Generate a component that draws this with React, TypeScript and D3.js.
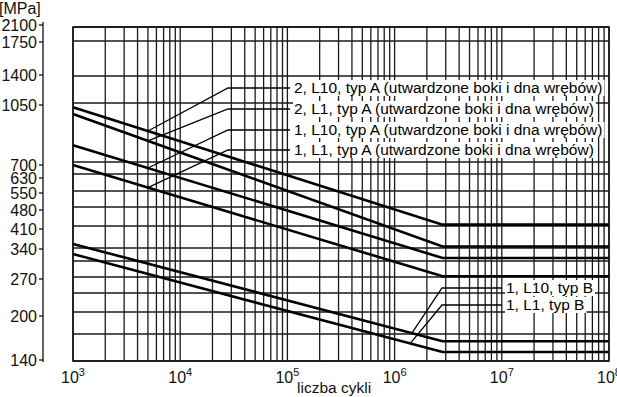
import * as d3 from "d3";
import { useEffect, useRef } from "react";

// cycle counts where each S-N curve bends (start, knee, end)
const cycles = [1e3, 2.8e6, 1e8];

// typ A curves (stress in MPa at the points above)
const s2L10A = [1025, 415, 415];
const s2L1A = [985, 345, 345];
const s1L10A = [800, 317, 317];
const s1L1A = [682, 272, 272];
// typ B curves
const s1L10B = [353, 162, 162];
const s1L1B = [326, 150, 150];

const labelsA = [
  "2, L10, typ A (utwardzone boki i dna wrębów)",
  "2, L1, typ A (utwardzone boki i dna wrębów)",
  "1, L10, typ A (utwardzone boki i dna wrębów)",
  "1, L1, typ A (utwardzone boki i dna wrębów)",
];
const labelsB = ["1, L10, typ B", "1, L1, typ B"];

const yTickValues = [2100, 1750, 1400, 1050, 700, 630, 550, 480, 410, 340, 270, 200, 140];
const yGridValues = [2100, 1750, 1400, 1050, 700, 630, 550, 480, 410, 340, 310, 270, 240, 200, 170, 140];
const xDecades = [3, 4, 5, 6, 7, 8];

const yUnit = "[MPa]";
const xTitle = "liczba cykli";

// layout
const W = 617;
const H = 397;
const plotLeft = 73;
const plotRight = 609;
const plotTop = 27;
const plotBottom = 361;
const axisX = 43;
// the value axis of the original is hand drawn, so its gridlines are not evenly spaced,
// and the separate tick axis on the left sits a few pixels off the grid
const yGridPx = [27, 41, 76, 103, 162, 174, 191, 207, 226, 248, 261, 277, 293, 312, 334, 361];
const yAxisPx = [25, 42, 75, 105, 165, 178, 193, 210, 229, 249, 279, 316, 360];
const font = "'Liberation Sans', Arial, Helvetica, sans-serif";

export default function App() {
  const svgRef = useRef<SVGSVGElement>(null);

  useEffect(() => {
    drawChart();
  }, []);

  function drawChart() {
    const svg = d3.select(svgRef.current);
    svg.selectAll("*").remove();

    const x = d3.scaleLog().domain([1e3, 1e8]).range([plotLeft, plotRight]);
    const y = d3.scaleLinear().domain(yGridValues).range(yGridPx);
    const yAxis = d3.scaleLinear().domain(yTickValues).range(yAxisPx);

    svg.append("rect").attr("width", W).attr("height", H).attr("fill", "#fff");

    // vertical log grid
    const minor: number[] = [];
    for (let e = 3; e < 8; e++) {
      for (let k = 1; k < 10; k++) minor.push(k * Math.pow(10, e));
    }
    minor.push(1e8);
    svg
      .append("g")
      .selectAll("line")
      .data(minor)
      .join("line")
      .attr("x1", (d) => x(d))
      .attr("x2", (d) => x(d))
      .attr("y1", plotTop)
      .attr("y2", plotBottom)
      .attr("stroke", "#1a1a1a")
      .attr("stroke-width", 1.3);

    // horizontal grid
    svg
      .append("g")
      .selectAll("line")
      .data(yGridValues)
      .join("line")
      .attr("x1", plotLeft)
      .attr("x2", plotRight)
      .attr("y1", (d) => y(d))
      .attr("y2", (d) => y(d))
      .attr("stroke", "#1a1a1a")
      .attr("stroke-width", 1.3);

    // value axis on the left
    svg
      .append("line")
      .attr("x1", axisX)
      .attr("x2", axisX)
      .attr("y1", yAxis(2100) - 3)
      .attr("y2", yAxis(140) + 2)
      .attr("stroke", "#111")
      .attr("stroke-width", 1.3);

    const yt = svg.append("g").selectAll("g").data(yTickValues).join("g");
    yt.append("line")
      .attr("x1", axisX - 4)
      .attr("x2", axisX)
      .attr("y1", (d) => yAxis(d))
      .attr("y2", (d) => yAxis(d))
      .attr("stroke", "#111")
      .attr("stroke-width", 1.3);
    yt.append("text")
      .attr("x", axisX - 6)
      .attr("y", (d) => yAxis(d) + 5.5)
      .attr("text-anchor", "end")
      .attr("font-family", font)
      .attr("font-size", 16)
      .attr("fill", "#111")
      .text((d) => d);

    svg
      .append("text")
      .attr("x", -1)
      .attr("y", 14)
      .attr("font-family", font)
      .attr("font-size", 16)
      .attr("fill", "#111")
      .text(yUnit);

    // cycle axis labels 10^n
    const xt = svg
      .append("g")
      .selectAll("text")
      .data(xDecades)
      .join("text")
      .attr("x", (d) => x(Math.pow(10, d)))
      .attr("y", 383)
      .attr("text-anchor", "middle")
      .attr("font-family", font)
      .attr("font-size", 16)
      .attr("fill", "#111");
    xt.append("tspan").text("10");
    xt.append("tspan")
      .attr("dy", -7)
      .attr("font-size", 11)
      .text((d) => d);

    svg
      .append("text")
      .attr("x", 297)
      .attr("y", 393)
      .attr("font-family", font)
      .attr("font-size", 15.5)
      .attr("fill", "#111")
      .text(xTitle);

    // S-N curves
    const seriesA = [s2L10A, s2L1A, s1L10A, s1L1A];
    const seriesB = [s1L10B, s1L1B];
    const line = d3
      .line<number>()
      .x((_, i) => x(cycles[i]))
      .y((d) => y(d));

    svg
      .append("g")
      .selectAll("path")
      .data([...seriesA, ...seriesB])
      .join("path")
      .attr("d", (d) => line(d))
      .attr("fill", "none")
      .attr("stroke", "#000")
      .attr("stroke-width", 2.6);

    // pixel y of a curve at a given cycle count on its sloping part
    function yOn(s: number[], n: number) {
      const t = (x(n) - x(cycles[0])) / (x(cycles[1]) - x(cycles[0]));
      return y(s[0]) + t * (y(s[1]) - y(s[0]));
    }

    const labelG = svg.append("g");

    function addLabel(
      s: number[],
      touchN: number,
      text: string,
      elbowX: number,
      textX: number,
      baseline: number
    ) {
      const ly = baseline - 5;
      labelG
        .append("polyline")
        .attr(
          "points",
          `${x(touchN)},${yOn(s, touchN)} ${elbowX},${ly} ${textX - 4},${ly}`
        )
        .attr("fill", "none")
        .attr("stroke", "#000")
        .attr("stroke-width", 1.3);
      const bg = labelG.append("rect").attr("fill", "#fff");
      const t = labelG
        .append("text")
        .attr("x", textX)
        .attr("y", baseline)
        .attr("font-family", font)
        .attr("font-size", 15.5)
        .attr("fill", "#000")
        .text(text);
      const bb = (t.node() as SVGTextElement).getBBox();
      bg.attr("x", bb.x - 1)
        .attr("y", bb.y + 1)
        .attr("width", bb.width + 3)
        .attr("height", bb.height - 1);
    }

    const baselinesA = [93, 114, 135, 155];
    seriesA.forEach((s, i) => {
      addLabel(s, 5000, labelsA[i], 228, 294, baselinesA[i]);
    });
    const baselinesB = [293, 310];
    const touchB = [1.45e6, 1.4e6];
    seriesB.forEach((s, i) => {
      addLabel(s, touchB[i], labelsB[i], 442, 506, baselinesB[i]);
    });

    // plot frame
    svg
      .append("rect")
      .attr("x", plotLeft)
      .attr("y", plotTop)
      .attr("width", plotRight - plotLeft)
      .attr("height", plotBottom - plotTop)
      .attr("fill", "none")
      .attr("stroke", "#111")
      .attr("stroke-width", 1.5);
  }

  return (
    <svg
      ref={svgRef}
      width={W}
      height={H}
      style={{ position: "absolute", left: 0, top: 0 }}
    />
  );
}
